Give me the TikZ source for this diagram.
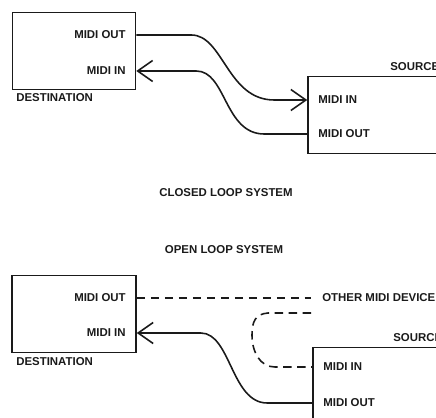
\documentclass[tikz,border=0pt]{standalone}
\usepackage{fontspec}
\setmainfont{Liberation Sans}
\usetikzlibrary{calc,positioning,arrows.meta}
\definecolor{inkLine}{HTML}{1A1A1A}

\begin{document}
\begin{tikzpicture}[
    x=0.02cm, y=-0.02cm,
    box/.style={rectangle, draw=inkLine, line width=0.9pt, fill=white,
                minimum height=1.54cm, inner sep=0pt},
    port/.style={font=\fontsize{6.5}{7}\selectfont\bfseries, text=inkLine, inner sep=0pt},
    lbl/.style={font=\fontsize{6.5}{7}\selectfont\bfseries, text=inkLine, inner sep=0pt},
    link/.style={line width=0.9pt, draw=inkLine, -{Straight Barb[length=3mm, width=4.2mm]}},
    plain/.style={line width=0.9pt, draw=inkLine},
    dlink/.style={line width=0.9pt, draw=inkLine, dash pattern=on 0.17cm off 0.11cm},
]
    \useasboundingbox (0,0) rectangle (436,418);
    \clip (0,0) rectangle (436,418);

    % closed loop
    \node[box, minimum width=2.46cm] (dstA) at (74,51) {};
    \node[box, minimum width=3.4cm] (srcA) at (393,115) {};
    \node[port, anchor=east] (dOutA) at (126,35) {MIDI OUT};
    \node[port, anchor=east] (dInA) at (126,71) {MIDI IN};
    \node[port, anchor=west] (sInA) at (318,100) {MIDI IN};
    \node[port, anchor=west] (sOutA) at (318,134) {MIDI OUT};
    \node[lbl, anchor=west] (dNameA) at (16,98) {DESTINATION};
    \node[lbl, anchor=west] (sNameA) at (390,67) {SOURCE};
    \coordinate (dOutPtA) at (dstA.east |- dOutA);
    \coordinate (dInPtA) at (dstA.east |- dInA);
    \coordinate (sInPtA) at (srcA.west |- sInA);
    \coordinate (sOutPtA) at (srcA.west |- sOutA);

    \draw[link] (dOutPtA) -- ++(55,0) .. controls +(32,0) and ($(sInPtA)+(-80,0)$) .. ($(sInPtA)+(-33,0)$) -- (sInPtA);
    \draw[link] (sOutPtA) -- ++(-43,0) .. controls +(-40,0) and ($(dInPtA)+(90,0)$) .. ($(dInPtA)+(60,0)$) -- (dInPtA);

    \node[lbl] (closed) at (226,193) {CLOSED LOOP SYSTEM};
    \node[lbl] (open) at (224,250) {OPEN LOOP SYSTEM};

    % open loop
    \node[box, minimum width=2.48cm] (dstB) at (74,314) {};
    \node[box, minimum width=3.4cm] (srcB) at (398,386) {};
    \node[port, anchor=east] (dOutB) at (126,298) {MIDI OUT};
    \node[port, anchor=east] (dInB) at (126,333) {MIDI IN};
    \node[port, anchor=west] (sInB) at (323,367) {MIDI IN};
    \node[port, anchor=west] (sOutB) at (323,403) {MIDI OUT};
    \node[lbl, anchor=west] (dNameB) at (16,362) {DESTINATION};
    \node[lbl, anchor=west] (sNameB) at (393,338) {SOURCE};
    \node[lbl, anchor=west, inner xsep=0.22cm] (other) at (311,298) {OTHER MIDI DEVICE};
    \coordinate (dOutPtB) at (dstB.east |- dOutB);
    \coordinate (dInPtB) at (dstB.east |- dInB);
    \coordinate (sInPtB) at (srcB.west |- sInB);
    \coordinate (sOutPtB) at (srcB.west |- sOutB);
    \coordinate (otherIn) at (311,313);

    \draw[dlink] (dOutPtB) -- (other.west);
    \draw[dlink] (otherIn) -- ++(-43,0) .. controls +(-13,1) and +(0,-13) .. ++(-16,22)
        .. controls +(0,17) and +(-15,0) .. ++(23,32) -- (sInPtB);
    \draw[link] (sOutPtB) -- ++(-45,0) .. controls +(-36,0) and ($(dInPtB)+(94,0)$) .. ($(dInPtB)+(64,0)$) -- (dInPtB);
\end{tikzpicture}
\end{document}
